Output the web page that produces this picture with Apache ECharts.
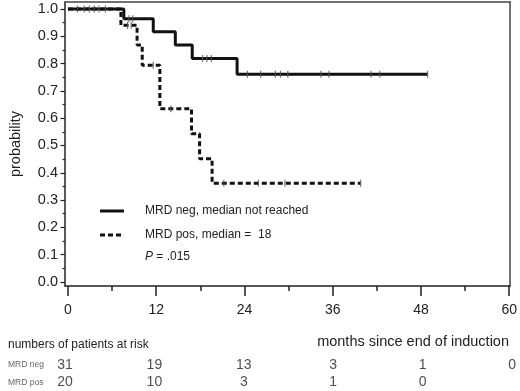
<!DOCTYPE html>
<html>
<head>
<meta charset="utf-8">
<script src="https://cdn.jsdelivr.net/npm/echarts@6/dist/echarts.min.js"></script>
<style>
  html, body { margin: 0; padding: 0; background: #fff; }
  #chart { width: 520px; height: 391px; }
</style>
</head>
<body>
<div id="chart"></div>
<script>
// Kaplan-Meier steps (month, survival after the event)
var negTimes = [0, 7.6, 11.6, 14.6, 16.9, 23.0, 48.9];
var negSurv = [1.0, 0.964, 0.917, 0.868, 0.819, 0.761, 0.761];
var posTimes = [0, 7.2, 9.4, 10.1, 12.5, 16.8, 17.9, 19.6, 39.8];
var posSurv = [1.0, 0.94, 0.868, 0.794, 0.635, 0.543, 0.451, 0.362, 0.362];

// censored observations (months)
var negCensor = [1.3, 2.2, 2.9, 3.6, 4.2, 5.1, 8.3, 8.8, 18.3, 18.9, 19.5,
  24.4, 26.2, 28.2, 28.9, 29.9, 34.4, 35.5, 41.2, 42.4, 48.9];
var posCensor = [8.1, 8.6, 11.6, 14.0, 21.2, 25.9, 29.5, 39.8];

// axis ticks
var xTicks = [0, 12, 24, 36, 48, 60];
var xMinor = [6, 18, 30, 42, 54];
var yTicks = [0, 0.1, 0.2, 0.3, 0.4, 0.5, 0.6, 0.7, 0.8, 0.9, 1.0];
var yMinor = [0.05, 0.15, 0.25, 0.35, 0.45, 0.55, 0.65, 0.75, 0.85, 0.95];

// numbers at risk
var riskGroups = ["MRD neg", "MRD pos"];
var riskMonths = [0, 12, 24, 36, 48, 60];
var riskNeg = [31, 19, 13, 3, 1, 0];
var riskPos = [20, 10, 3, 1, 0];

var FONT = "'Liberation Sans', Arial, sans-serif";
var XMIN = -0.4, XMAX = 60.13;
var YMIN = -0.0147, YMAX = 1.0256;

function stepData(times, surv) {
  return times.map(function (t, i) { return [t, surv[i]]; });
}
function survAt(times, surv, t) {
  var s = surv[0];
  for (var i = 0; i < times.length; i++) {
    if (times[i] <= t) s = surv[i];
  }
  return s;
}
function censorData(cens, times, surv) {
  return cens.map(function (t) { return [t, survAt(times, surv, t)]; });
}
var riskData = [];
riskNeg.forEach(function (n, i) { riskData.push([riskMonths[i], riskGroups[0], n]); });
riskPos.forEach(function (n, i) { riskData.push([riskMonths[i], riskGroups[1], n]); });

var chart = echarts.init(document.getElementById("chart"));
var option = {
  animation: false,
  textStyle: { fontFamily: FONT },
  grid: [
    { left: 62, right: 7, top: 2, height: 284 },
    { left: 62, right: 7, top: 356, height: 36 }
  ],
  xAxis: [
    {
      type: "value", gridIndex: 0, min: XMIN, max: XMAX, position: "bottom",
      axisLine: { onZero: false, lineStyle: { color: "#222", width: 1.5 } },
      axisTick: { customValues: xTicks, length: 10, lineStyle: { color: "#222", width: 1.5 } },
      axisLabel: { customValues: xTicks, margin: 17, fontSize: 14, color: "#222", fontFamily: FONT },
      splitLine: { show: false }
    },
    {
      type: "value", gridIndex: 0, min: XMIN, max: XMAX, position: "bottom",
      axisLine: { show: false, onZero: false },
      axisTick: { customValues: xMinor, length: 5, lineStyle: { color: "#222", width: 1.5 } },
      axisLabel: { show: false },
      splitLine: { show: false }
    },
    {
      // top frame line
      type: "value", gridIndex: 0, min: XMIN, max: XMAX, position: "top",
      axisLine: { show: true, onZero: false, lineStyle: { color: "#444", width: 1.5 } },
      axisTick: { show: false }, axisLabel: { show: false }, splitLine: { show: false }
    },
    { type: "value", gridIndex: 1, min: XMIN, max: XMAX, show: false }
  ],
  yAxis: [
    {
      type: "value", gridIndex: 0, min: YMIN, max: YMAX, position: "left",
      name: "probability", nameLocation: "middle", nameGap: 42,
      nameTextStyle: { fontSize: 14.5, color: "#222", fontFamily: FONT },
      axisLine: { show: true, onZero: false, lineStyle: { color: "#222", width: 1.5 } },
      axisTick: { show: true, customValues: yTicks, length: 4.5, lineStyle: { color: "#222", width: 1.2 } },
      axisLabel: {
        customValues: yTicks, margin: 7, fontSize: 14.5, color: "#222", fontFamily: FONT,
        formatter: function (v) { return v.toFixed(1); }
      },
      splitLine: { show: false }
    },
    {
      type: "value", gridIndex: 0, min: YMIN, max: YMAX, position: "left",
      axisLine: { show: false, onZero: false },
      axisTick: { show: true, customValues: yMinor, length: 2.5, lineStyle: { color: "#222", width: 1.2 } },
      axisLabel: { show: false },
      splitLine: { show: false }
    },
    {
      // right frame line
      type: "value", gridIndex: 0, min: YMIN, max: YMAX, position: "right",
      axisLine: { show: true, onZero: false, lineStyle: { color: "#444", width: 1.5 } },
      axisTick: { show: false }, axisLabel: { show: false }, splitLine: { show: false }
    },
    {
      type: "category", gridIndex: 1, data: riskGroups, inverse: true,
      axisLine: { show: false }, axisTick: { show: false },
      axisLabel: { align: "left", margin: 54, fontSize: 8.5, color: "#666", fontFamily: FONT },
      splitLine: { show: false }
    }
  ],
  series: [
    {
      name: "MRD neg", type: "line", step: "end", xAxisIndex: 0, yAxisIndex: 0,
      data: stepData(negTimes, negSurv), symbol: "none",
      lineStyle: { color: "#111", width: 3 }
    },
    {
      name: "MRD pos", type: "line", step: "end", xAxisIndex: 0, yAxisIndex: 0,
      data: stepData(posTimes, posSurv), symbol: "none",
      lineStyle: { color: "#111", width: 3, type: [5, 3] }
    },
    {
      type: "scatter", xAxisIndex: 0, yAxisIndex: 0, symbol: "rect", symbolSize: [1.2, 7],
      itemStyle: { color: "#555" }, data: censorData(negCensor, negTimes, negSurv), z: 3
    },
    {
      type: "scatter", xAxisIndex: 0, yAxisIndex: 0, symbol: "rect", symbolSize: [1.2, 7],
      itemStyle: { color: "#555" }, data: censorData(posCensor, posTimes, posSurv), z: 3
    },
    {
      type: "scatter", xAxisIndex: 3, yAxisIndex: 3, symbolSize: 1,
      itemStyle: { color: "rgba(0,0,0,0)" }, data: riskData,
      label: {
        show: true, position: "inside", fontSize: 14, color: "#222", fontFamily: FONT,
        formatter: function (p) { return String(p.value[2]); }
      }
    }
  ],
  graphic: [
    { type: "line", shape: { x1: 100, y1: 211, x2: 124, y2: 211 }, style: { stroke: "#111", lineWidth: 3 } },
    { type: "line", shape: { x1: 100, y1: 235, x2: 124, y2: 235 }, style: { stroke: "#111", lineWidth: 3, lineDash: [5, 3] } },
    { type: "text", x: 145, y: 211, style: { text: "MRD neg, median not reached", font: "12px " + FONT, fill: "#222", verticalAlign: "middle" } },
    { type: "text", x: 145, y: 235, style: { text: "MRD pos, median =  18", font: "12px " + FONT, fill: "#222", verticalAlign: "middle" } },
    {
      type: "text", x: 145, y: 257,
      style: {
        text: "{i|P} = .015", font: "12px " + FONT, fill: "#222", verticalAlign: "middle",
        rich: { i: { fontStyle: "italic", fontSize: 12, fontFamily: FONT, fill: "#222" } }
      }
    },
    { type: "text", x: 8, y: 345, style: { text: "numbers of patients at risk", font: "12px " + FONT, fill: "#222", verticalAlign: "middle" } },
    { type: "text", x: 509, y: 342, style: { text: "months since end of induction", font: "14.5px " + FONT, fill: "#222", align: "right", verticalAlign: "middle" } }
  ]
};
chart.setOption(option);
</script>
</body>
</html>
